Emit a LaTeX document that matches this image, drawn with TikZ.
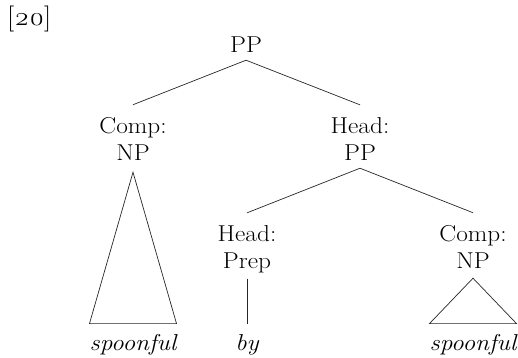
\documentclass[tikz,border=0pt]{standalone}
\usepackage{fontspec}
\setmainfont{Latin Modern Roman}[FakeStretch=1.1]
\usetikzlibrary{calc}
\begin{document}
\begin{tikzpicture}[x=1pt,y=-1pt,
  lab/.style={inner sep=0pt, align=center, anchor=base, text=black,
    font=\fontsize{23}{27}\selectfont},
  word/.style={lab, font=\fontsize{23}{27}\selectfont\itshape},
  br/.style={line width=0.7pt, draw=black!85}]
\useasboundingbox (0,0) rectangle (518,357);
\node[lab, anchor=base west, font=\fontsize{26}{30}\selectfont] (num) at (7,25) {[\oldstylenums{20}]};
\node[lab] (pp) at (246,52) {PP};
\node[lab] (comp1) at (133,160) {Comp:\\NP};
\node[lab] (head1) at (360,160) {Head:\\PP};
\node[lab] (head2) at (247,268) {Head:\\Prep};
\node[lab] (comp2) at (473,268) {Comp:\\NP};
\node[word] (w1) at (133,350) {spoonful};
\node[word] (w2) at (247,350) {by};
\node[word] (w3) at (473,350) {spoonful};
\draw[br] ([yshift=-8pt]pp.south) -- ([yshift=12pt]comp1.north);
\draw[br] ([yshift=-8pt]pp.south) -- ([yshift=12pt]head1.north);
\draw[br] ([yshift=-8pt]head1.south) -- ([yshift=12pt]head2.north);
\draw[br] ([yshift=-8pt]head1.south) -- ([yshift=12pt]comp2.north);
\draw[br] ([yshift=-6pt]head2.south) -- ([yshift=10pt]w2.north);
\draw[br] ([yshift=-12pt]comp1.south) -- ([yshift=10pt]w1.north west) -- ([yshift=10pt]w1.north east) -- cycle;
\draw[br] ([yshift=-10pt]comp2.south) -- ([yshift=10pt]w3.north west) -- ([yshift=10pt]w3.north east) -- cycle;
\end{tikzpicture}
\end{document}
